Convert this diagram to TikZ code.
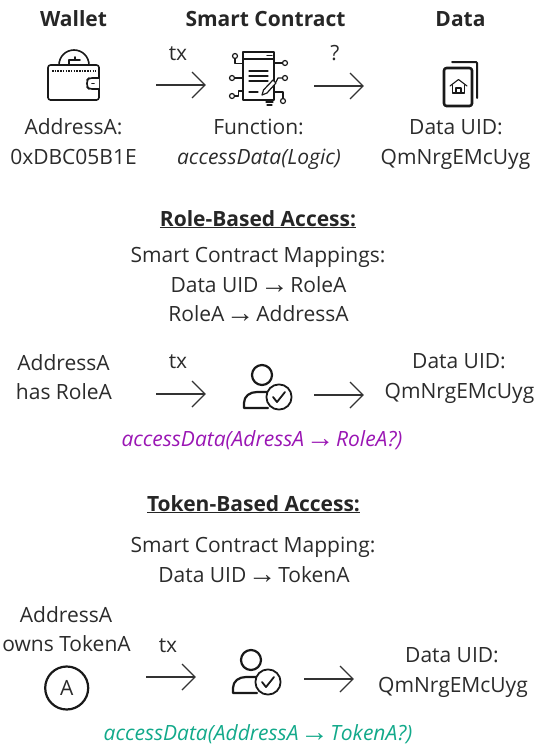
\documentclass[tikz,border=0pt]{standalone}
\usepackage{fontspec}
\setmainfont{Open Sans}
\newfontfamily\arrowfont[Scale=1.35]{Liberation Sans}
\newcommand{\toarrow}{\makebox[21pt][c]{\raisebox{-1.5pt}{\arrowfont\upshape →}}}
\definecolor{txt}{HTML}{2B2B2B}
\definecolor{rolecol}{HTML}{9A16B4}
\definecolor{tokcol}{HTML}{12A98A}
\tikzset{
 lbl/.style={inner sep=0pt,anchor=base,text=txt,font=\fontsize{21}{27}\selectfont,align=center},
 hdr/.style={lbl,text=black!85,font=\fontsize{21}{27}\selectfont\bfseries},
 flow/.style={draw=black!80,line width=1.2pt},
 ico/.style={draw=black!90,line width=1.6pt,line join=round,line cap=round},
 thin ico/.style={ico,line width=1.2pt},
}
\newcommand{\flowarrow}[2]{%
 \coordinate (s) at (#1,#2); \coordinate (e) at (#1+49,#2);
 \draw[flow] (s) -- (e);
 \draw[flow] (#1+36,#2-13) -- (e) -- (#1+36,#2+13);
}
\newcommand{\person}[2]{%
 \begin{scope}[shift={(#1,#2)}]
 \draw[ico,line width=2.2pt] (0,0) circle (10);
 \draw[ico,line width=2.2pt] (6,33) -- (-18,33) -- (-18,28) .. controls (-18,21) and (-12,17) .. (-5,17) -- (9,17);
 \draw[ico,line width=1.8pt,fill=white] (17,22) circle (12.6);
 \draw[ico,line width=1.8pt] (11,22) -- (15,27) -- (23,17);
 \end{scope}
}
\begin{document}
\begin{tikzpicture}[x=1pt,y=-1pt]
\useasboundingbox (0,0) rectangle (535,747);
\node[hdr] (h1) at (73.5,26) {Wallet};
\node[hdr] (h2) at (265.5,26) {Smart Contract};
\node[hdr] (h3) at (460.5,26) {Data};
\node[lbl] (tx1) at (178,60) {tx};
\node[lbl] (q1) at (335,60) {?};
\flowarrow{156}{85}
\flowarrow{314}{86}
% wallet
\draw[ico] (59,65) arc[start angle=180,end angle=360,radius=15];
\draw[ico] (69,64) -- (69,60) -- (80,60) (75,60) -- (75,57);
\draw[ico,rounded corners=2.5pt] (48,65) rectangle (99,100);
\draw[black!90,line width=1.3pt,dash pattern=on 1.5pt off 1.2pt] (52,71) -- (96,71);
\draw[ico,fill=white,rounded corners=3pt] (99,78) -- (89,78) -- (87,80) -- (87,87) -- (89,89) -- (99,89);
\draw[ico] (92,83.5) -- (94,83.5);
% contract icon
\draw[thin ico] (243,52) rectangle (274,100);
\draw[thin ico] (243,59) -- (274,59);
\draw[thin ico] (267,55.5) -- (272,55.5);
\draw[thin ico] (249,71) -- (268,71) (249,76) -- (268,76) (249,81) -- (268,81) (249,92) -- (258,92);
\draw[thin ico] (235,58) -- (235,63.5) -- (243,63.5);
\draw[thin ico] (234,78) -- (243,78);
\draw[thin ico] (234,96) -- (238.5,96) -- (238.5,91) -- (243,91);
\draw[thin ico] (274,63) -- (283,63);
\draw[thin ico] (276,82) -- (278,78) -- (283,78);
\draw[thin ico] (274,92) -- (283,92) -- (283,99);
\foreach \p in {(235,56),(232,78),(232,96),(285,63),(285,78),(283,101)}{\draw[thin ico,fill=white] \p circle (2.5);}
\draw[thin ico,fill=white] (262,95) -- (263.5,90) -- (273,80) -- (276,83) -- (267,93) -- cycle;
\draw[thin ico] (266,102) -- (273,102) (267,105) -- (272,105);
% data icon
\draw[ico,line width=2pt,rounded corners=1pt] (452,62) -- (477,62) -- (477,98);
\draw[ico,line width=2.6pt,rounded corners=2.5pt] (444,68) rectangle (472,106);
\draw[ico,line width=1.1pt] (450,86) -- (458.5,79.5) -- (467,86);
\draw[ico,line width=1.1pt] (452.5,85) -- (452.5,93) -- (464.5,93) -- (464.5,85);
\draw[ico,line width=1.1pt] (456,93) -- (456,88) -- (461,88) -- (461,93);
\node[lbl] (a1) at (73.5,134) {AddressA:};
\node[lbl] (a2) at (73.5,164) {0xDBC05B1E};
\node[lbl] (f1) at (258.5,134) {Function:};
\node[lbl] (f2) at (259,164) {\itshape accessData(Logic)};
\node[lbl] (d1) at (456,134) {Data UID:};
\node[lbl] (d2) at (455.5,164) {QmNrgEMcUyg};
% role
\node[hdr] (role) at (258,226) {\underline{Role-Based Access:}};
\node[lbl] (r1) at (258,262) {Smart Contract Mappings:};
\node[lbl] (r2) at (258.5,292) {Data UID \toarrow{} RoleA};
\node[lbl] (r3) at (258.5,321) {RoleA \toarrow{} AddressA};
\node[lbl] (b1) at (63.5,370) {AddressA};
\node[lbl] (b2) at (64,399) {has RoleA};
\node[lbl] (tx2) at (178,368) {tx};
\flowarrow{156}{394}
\person{262}{375}
\flowarrow{314}{395}
\node[lbl] (d3) at (459,368) {Data UID:};
\node[lbl] (d4) at (459.5,398) {QmNrgEMcUyg};
\node[lbl,text=rolecol] (c1) at (262,446) {\itshape accessData(AdressA \toarrow{} RoleA?)};
% token
\node[hdr] (tok) at (253.5,511) {\underline{Token-Based Access:}};
\node[lbl] (t1) at (253,552) {Smart Contract Mapping:};
\node[lbl] (t2) at (254,582) {Data UID \toarrow{} TokenA};
\node[lbl] (e1) at (66,622) {AddressA};
\node[lbl] (e2) at (66.5,651) {owns TokenA};
\node[lbl] (tx3) at (168,652) {tx};
\node[circle,draw=black!90,line width=2.2pt,minimum size=43pt,inner sep=0pt,text=txt,font=\fontsize{21}{21}\selectfont] (tk) at (66.7,688) {A};
\flowarrow{146}{677}
\person{251}{660}
\flowarrow{304}{679}
\node[lbl] (d5) at (452,662) {Data UID:};
\node[lbl] (d6) at (453,692) {QmNrgEMcUyg};
\node[lbl,text=tokcol] (c2) at (258,740) {\itshape accessData(AddressA \toarrow{} TokenA?)};
\end{tikzpicture}
\end{document}
